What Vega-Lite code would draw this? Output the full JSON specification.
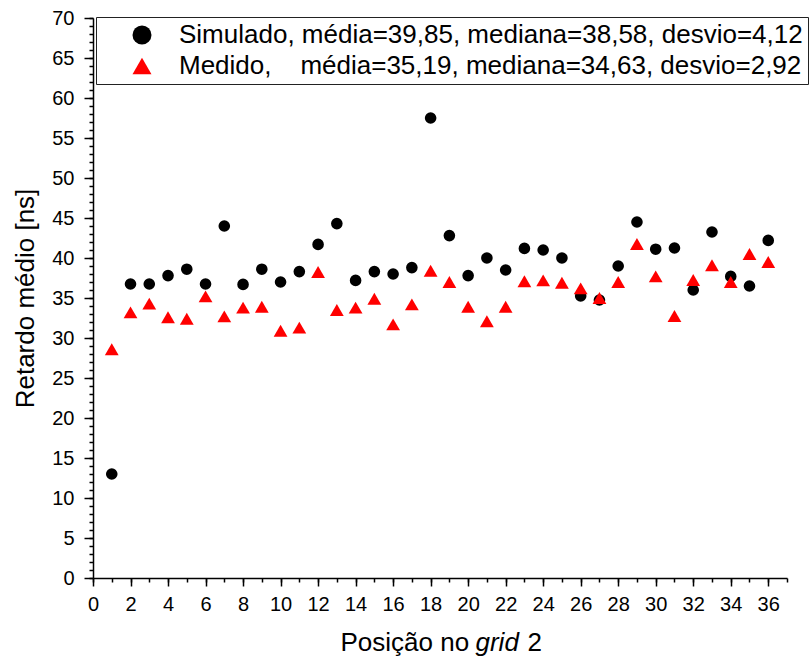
{
  "$schema": "https://vega.github.io/schema/vega-lite/v6.json",
  "autosize": {"type": "none"},
  "width": 694,
  "height": 560,
  "padding": {"left": 93, "top": 18, "right": 24, "bottom": 85},
  "background": "white",
  "config": {
    "view": {"stroke": null},
    "font": "Liberation Sans",
    "axis": {
      "labelFont": "Liberation Sans",
      "labelFontSize": 20,
      "labelColor": "black",
      "titleFont": "Liberation Sans",
      "titleFontSize": 26,
      "titleFontWeight": "normal",
      "titleColor": "black",
      "domainColor": "black",
      "tickColor": "black",
      "grid": false
    },
    "legend": {
      "labelFont": "Liberation Sans",
      "labelFontSize": 26,
      "labelColor": "black"
    }
  },
  "data": {
    "values": [
      {"pos": 1, "serie": "Simulado", "v": 13.0},
      {"pos": 2, "serie": "Simulado", "v": 36.75},
      {"pos": 3, "serie": "Simulado", "v": 36.75},
      {"pos": 4, "serie": "Simulado", "v": 37.8},
      {"pos": 5, "serie": "Simulado", "v": 38.6},
      {"pos": 6, "serie": "Simulado", "v": 36.75},
      {"pos": 7, "serie": "Simulado", "v": 44.0},
      {"pos": 8, "serie": "Simulado", "v": 36.7},
      {"pos": 9, "serie": "Simulado", "v": 38.6},
      {"pos": 10, "serie": "Simulado", "v": 37.0},
      {"pos": 11, "serie": "Simulado", "v": 38.3},
      {"pos": 12, "serie": "Simulado", "v": 41.7},
      {"pos": 13, "serie": "Simulado", "v": 44.3},
      {"pos": 14, "serie": "Simulado", "v": 37.2},
      {"pos": 15, "serie": "Simulado", "v": 38.3},
      {"pos": 16, "serie": "Simulado", "v": 38.0},
      {"pos": 17, "serie": "Simulado", "v": 38.8},
      {"pos": 18, "serie": "Simulado", "v": 57.5},
      {"pos": 19, "serie": "Simulado", "v": 42.8},
      {"pos": 20, "serie": "Simulado", "v": 37.8},
      {"pos": 21, "serie": "Simulado", "v": 40.0},
      {"pos": 22, "serie": "Simulado", "v": 38.5},
      {"pos": 23, "serie": "Simulado", "v": 41.2},
      {"pos": 24, "serie": "Simulado", "v": 41.0},
      {"pos": 25, "serie": "Simulado", "v": 40.0},
      {"pos": 26, "serie": "Simulado", "v": 35.25},
      {"pos": 27, "serie": "Simulado", "v": 34.75},
      {"pos": 28, "serie": "Simulado", "v": 39.0},
      {"pos": 29, "serie": "Simulado", "v": 44.5},
      {"pos": 30, "serie": "Simulado", "v": 41.1},
      {"pos": 31, "serie": "Simulado", "v": 41.25},
      {"pos": 32, "serie": "Simulado", "v": 36.0},
      {"pos": 33, "serie": "Simulado", "v": 43.25},
      {"pos": 34, "serie": "Simulado", "v": 37.7},
      {"pos": 35, "serie": "Simulado", "v": 36.5},
      {"pos": 36, "serie": "Simulado", "v": 42.2},
      {"pos": 1, "serie": "Medido", "v": 28.6},
      {"pos": 2, "serie": "Medido", "v": 33.2},
      {"pos": 3, "serie": "Medido", "v": 34.3},
      {"pos": 4, "serie": "Medido", "v": 32.6},
      {"pos": 5, "serie": "Medido", "v": 32.4},
      {"pos": 6, "serie": "Medido", "v": 35.2},
      {"pos": 7, "serie": "Medido", "v": 32.7},
      {"pos": 8, "serie": "Medido", "v": 33.8},
      {"pos": 9, "serie": "Medido", "v": 33.9},
      {"pos": 10, "serie": "Medido", "v": 30.9},
      {"pos": 11, "serie": "Medido", "v": 31.3},
      {"pos": 12, "serie": "Medido", "v": 38.25},
      {"pos": 13, "serie": "Medido", "v": 33.5},
      {"pos": 14, "serie": "Medido", "v": 33.8},
      {"pos": 15, "serie": "Medido", "v": 34.9},
      {"pos": 16, "serie": "Medido", "v": 31.7},
      {"pos": 17, "serie": "Medido", "v": 34.2},
      {"pos": 18, "serie": "Medido", "v": 38.4},
      {"pos": 19, "serie": "Medido", "v": 37.0},
      {"pos": 20, "serie": "Medido", "v": 33.9},
      {"pos": 21, "serie": "Medido", "v": 32.1},
      {"pos": 22, "serie": "Medido", "v": 33.9},
      {"pos": 23, "serie": "Medido", "v": 37.1},
      {"pos": 24, "serie": "Medido", "v": 37.2},
      {"pos": 25, "serie": "Medido", "v": 36.9},
      {"pos": 26, "serie": "Medido", "v": 36.2},
      {"pos": 27, "serie": "Medido", "v": 35.0},
      {"pos": 28, "serie": "Medido", "v": 37.0},
      {"pos": 29, "serie": "Medido", "v": 41.75},
      {"pos": 30, "serie": "Medido", "v": 37.7},
      {"pos": 31, "serie": "Medido", "v": 32.75},
      {"pos": 32, "serie": "Medido", "v": 37.25},
      {"pos": 33, "serie": "Medido", "v": 39.1},
      {"pos": 34, "serie": "Medido", "v": 37.0},
      {"pos": 35, "serie": "Medido", "v": 40.5},
      {"pos": 36, "serie": "Medido", "v": 39.5}
    ]
  },
  "resolve": {"axis": {"x": "independent", "y": "independent"}},
  "layer": [
    {
      "transform": [{"filter": "datum.serie === 'Simulado'"}],
      "mark": {"type": "point", "filled": true, "opacity": 0, "size": 10, "strokeWidth": 0},
      "encoding": {
        "x": {
          "field": "pos", "type": "quantitative",
          "scale": {"domain": [0, 37], "nice": false, "zero": false},
          "axis": {
            "orient": "bottom",
            "values": [],
            "ticks": false, "domain": false, "labels": false,
            "title": "2",
            "titleAlign": "left", "titleAnchor": null, "titleX": 434, "titleY": 72, "titleBaseline": "alphabetic"
          }
        },
        "y": {
          "field": "v", "type": "quantitative",
          "scale": {"domain": [0, 70], "nice": false, "zero": false},
          "axis": null
        }
      }
    },
    {
      "transform": [{"filter": "datum.serie === 'Simulado'"}],
      "mark": {"type": "point", "filled": true, "opacity": 1, "size": 135, "strokeWidth": 0},
      "encoding": {
        "x": {
          "field": "pos", "type": "quantitative",
          "scale": {"domain": [0, 37], "nice": false, "zero": false},
          "axis": {
            "orient": "bottom",
            "values": [0, 2, 4, 6, 8, 10, 12, 14, 16, 18, 20, 22, 24, 26, 28, 30, 32, 34, 36],
            "tickSize": 8, "tickWidth": 1.5, "domainWidth": 1.5,
            "labelPadding": 8, "labelFlush": false, "labelOverlap": false,
            "title": "Posição no",
            "titleAlign": "left", "titleAnchor": null, "titleX": 247, "titleY": 72, "titleBaseline": "alphabetic"
          }
        },
        "y": {
          "field": "v", "type": "quantitative",
          "scale": {"domain": [0, 70], "nice": false, "zero": false},
          "axis": {
            "orient": "left",
            "values": [0, 5, 10, 15, 20, 25, 30, 35, 40, 45, 50, 55, 60, 65, 70],
            "tickSize": 9, "tickWidth": 1.5, "domainWidth": 1.5,
            "labelPadding": 10, "labelFlush": false, "labelOverlap": false,
            "title": "Retardo médio [ns]",
            "titleAngle": -90, "titleAlign": "center", "titleAnchor": null, "titleX": -60, "titleY": 280, "titleBaseline": "alphabetic"
          }
        },
        "color": {
          "field": "serie", "type": "nominal",
          "scale": {"domain": ["Simulado", "Medido"], "range": ["black", "red"]},
          "legend": {
            "orient": "none", "legendX": 3, "legendY": -1,
            "title": null,
            "padding": 5,
            "strokeColor": "#222", "fillColor": "white",
            "symbolSize": 360, "symbolOffset": 28, "labelOffset": 24,
            "rowPadding": 5, "labelLimit": 0,
            "symbolStrokeWidth": 0,
            "labelExpr": "datum.value === 'Simulado' ? 'Simulado, média=39,85, mediana=38,58, desvio=4,12' : 'Medido,\u00a0\u00a0\u00a0\u00a0média=35,19, mediana=34,63, desvio=2,92'",
            "encode": {"symbols": {"update": {"size": {"signal": "datum.value === 'Medido' ? 360 : 160"}}}}
          }
        },
        "shape": {
          "field": "serie", "type": "nominal",
          "scale": {"domain": ["Simulado", "Medido"], "range": ["circle", "triangle-up"]}
        }
      }
    },
    {
      "transform": [{"filter": "datum.serie === 'Medido'"}],
      "mark": {"type": "point", "filled": true, "opacity": 1, "size": 190, "strokeWidth": 0},
      "encoding": {
        "x": {
          "field": "pos", "type": "quantitative",
          "scale": {"domain": [0, 37], "nice": false, "zero": false},
          "axis": {
            "orient": "bottom",
            "values": [0, 1, 2, 3, 4, 5, 6, 7, 8, 9, 10, 11, 12, 13, 14, 15, 16, 17, 18, 19, 20, 21, 22, 23, 24, 25, 26, 27, 28, 29, 30, 31, 32, 33, 34, 35, 36, 37],
            "tickSize": 4, "tickWidth": 1.5, "domain": false, "labels": false,
            "title": "grid", "titleFontStyle": "italic",
            "titleAlign": "left", "titleAnchor": null, "titleX": 382, "titleY": 72, "titleBaseline": "alphabetic"
          }
        },
        "y": {
          "field": "v", "type": "quantitative",
          "scale": {"domain": [0, 70], "nice": false, "zero": false},
          "axis": {
            "orient": "left",
            "values": [0, 1, 2, 3, 4, 5, 6, 7, 8, 9, 10, 11, 12, 13, 14, 15, 16, 17, 18, 19, 20, 21, 22, 23, 24, 25, 26, 27, 28, 29, 30, 31, 32, 33, 34, 35, 36, 37, 38, 39, 40, 41, 42, 43, 44, 45, 46, 47, 48, 49, 50, 51, 52, 53, 54, 55, 56, 57, 58, 59, 60, 61, 62, 63, 64, 65, 66, 67, 68, 69, 70],
            "tickSize": 4, "tickWidth": 1.5, "domain": false, "labels": false,
            "title": null
          }
        },
        "color": {"field": "serie", "type": "nominal"},
        "shape": {"field": "serie", "type": "nominal"}
      }
    }
  ]
}
